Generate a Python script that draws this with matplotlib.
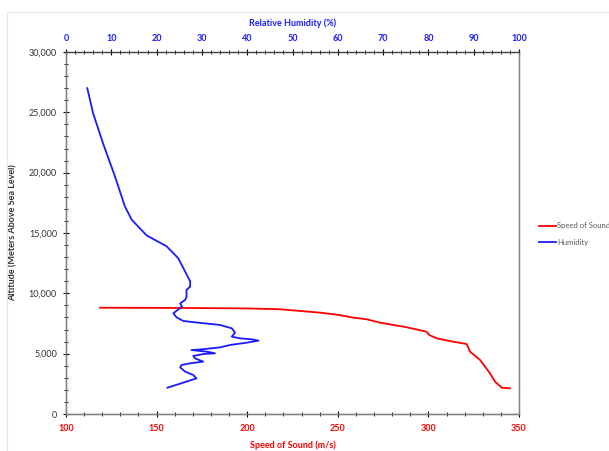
import matplotlib.pyplot as plt
from matplotlib.ticker import MultipleLocator, FuncFormatter
from matplotlib.patches import Rectangle

plt.rcParams['font.family'] = ['Lato', 'DejaVu Sans']

# speed of sound profile (m/s) vs altitude (m)
sound_speed = [118.8, 160, 200, 218.1, 240.2, 251.0, 258.0, 265.9, 273.3, 288.0, 299.0,
               300.5, 304.6, 313.7, 321.1, 322.0, 323.0, 328.5, 334.0, 336.8, 340.5, 345.0]
sound_alt = [8810, 8790, 8750, 8680, 8400, 8200, 8000, 7850, 7570, 7190, 6820,
             6550, 6270, 5990, 5800, 5500, 5160, 4480, 3370, 2680, 2180, 2130]

# relative humidity (%) vs altitude (m)
humidity = [4.7, 6.0, 8.2, 10.8, 13.0, 14.5, 17.8, 22.2, 24.8, 25.2,
            26.3, 27.4, 27.4, 26.6, 26.6, 26.3, 25.2, 25.6, 23.7, 24.4, 25.9,
            29.6, 34.0, 36.6, 37.3, 36.6, 38.4, 41.0, 42.5, 39.9, 36.2, 34.0,
            30.0, 27.7, 31.1, 32.9, 30.3, 28.1, 28.5, 30.3, 27.4, 25.5, 25.2,
            26.3, 28.1, 28.8, 25.9, 22.4]
hum_alt = [27000, 24900, 22400, 19700, 17200, 16100, 14800, 13900, 12900, 12600,
           11800, 11000, 10550, 10280, 9720, 9450, 9170, 8900, 8350, 8010, 7710,
           7550, 7380, 7100, 6740, 6410, 6270, 6190, 6080, 5910, 5720,
           5520, 5360, 5300, 5165, 5030, 4970, 4810, 4610, 4340, 4200, 4060, 3870,
           3510, 3230, 2950, 2600, 2180]

red = '#ff0000'
blue = '#1a1aff'

fig = plt.figure(figsize=(6.09, 4.51), dpi=100)
fig.patches.append(Rectangle((7 / 609, -0.1), 1.2, 1 - 12 / 451 + 0.1,
                             transform=fig.transFigure, fill=False,
                             edgecolor='#e6e6e6', linewidth=0.8))
ax = fig.add_axes([66 / 609, 1 - 414 / 451, 453 / 609, 362 / 451])

l1, = ax.plot(sound_speed, sound_alt, color=red, lw=1.3, label='Speed of Sound')
ax.set_xlim(100, 350)
ax.set_ylim(0, 30000)
ax.xaxis.set_major_locator(MultipleLocator(50))
ax.xaxis.set_minor_locator(MultipleLocator(10))
ax.yaxis.set_major_locator(MultipleLocator(5000))
ax.yaxis.set_minor_locator(MultipleLocator(1000))
ax.yaxis.set_major_formatter(FuncFormatter(lambda v, p: '{:,.0f}'.format(v)))
ax.tick_params(axis='x', which='both', direction='inout', labelsize=6.5,
               labelcolor=red, pad=5)
ax.tick_params(axis='y', which='both', direction='inout', labelsize=6.5,
               labelcolor='#333333', pad=4)
ax.tick_params(which='major', length=5, width=0.8)
ax.tick_params(which='minor', length=3, width=0.6)
for lbl in ax.get_xticklabels():
    lbl.set_fontweight('bold')
ax.set_xlabel('Speed of Sound (m/s)', color=red, fontsize=6.5, fontweight='bold', labelpad=5)
ax.set_ylabel('Altitude (Meters Above Sea Level)', color='#333333', fontsize=6.5,
              fontweight='bold', labelpad=8)

ax2 = ax.twiny()
l2, = ax2.plot(humidity, hum_alt, color=blue, lw=1.3, label='Humidity')
ax2.set_xlim(0, 100)
ax2.xaxis.set_major_locator(MultipleLocator(10))
ax2.xaxis.set_minor_locator(MultipleLocator(2))
ax2.tick_params(axis='x', which='both', direction='inout', labelsize=6.5,
                labelcolor=blue, pad=4)
ax2.tick_params(which='major', length=5, width=0.8)
ax2.tick_params(which='minor', length=3, width=0.6)
for lbl in ax2.get_xticklabels():
    lbl.set_fontweight('bold')
ax2.set_xlabel('Relative Humidity (%)', color=blue, fontsize=6.5, fontweight='bold', labelpad=6)

for a in (ax, ax2):
    for s in a.spines.values():
        s.set_color('#7f7f7f')
        s.set_linewidth(0.9)
ax.spines['left'].set_color('#404040')
ax.spines['bottom'].set_color('#404040')
ax2.spines['top'].set_color('#404040')

fig.legend(handles=[l1, l2], loc='center left', bbox_to_anchor=(532 / 609, 1 - 234 / 451),
           frameon=False, fontsize=5.5, labelcolor='#595959', handlelength=2.2,
           handletextpad=0.2, labelspacing=1.2)

fig.savefig('out.png', dpi=100)
